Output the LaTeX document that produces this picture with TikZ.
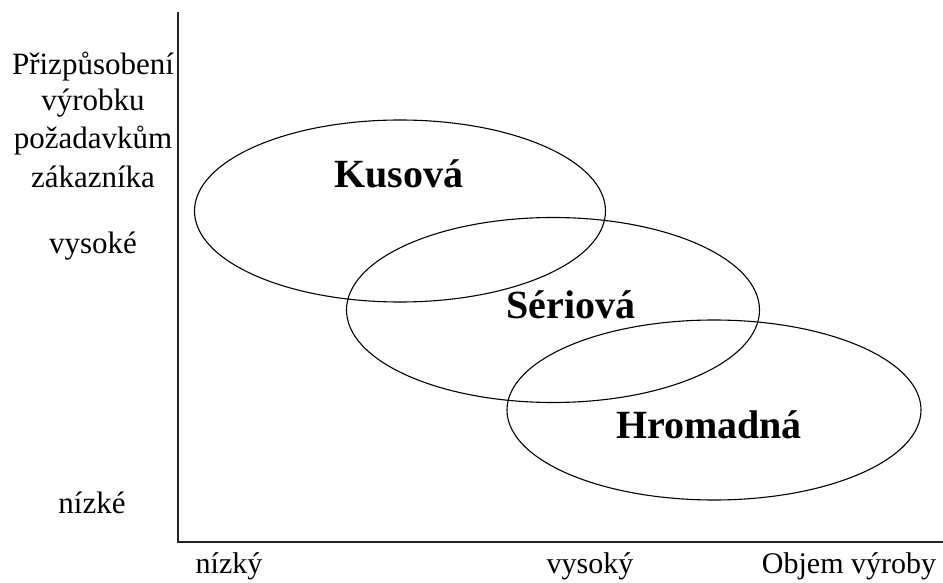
\documentclass[tikz,border=0pt]{standalone}
\usepackage{fontspec}
\setmainfont{Liberation Serif}
\usetikzlibrary{shapes.geometric}
\begin{document}
\begin{tikzpicture}[x=1pt,y=-1pt,
  ylbl/.style={font=\fontsize{31}{37}\selectfont, inner sep=0pt, anchor=base},
  xlbl/.style={font=\fontsize{30}{34}\selectfont, inner sep=0pt, anchor=base},
  big/.style={font=\fontsize{40}{44}\selectfont\bfseries, inner sep=0pt, anchor=base},
  oval/.style={draw, ellipse, line width=1.1pt, inner sep=0pt},
  axis/.style={line width=1.8pt, draw=black!85}]
\useasboundingbox (0,0) rectangle (943,583);
\coordinate (top) at (178,12);
\coordinate (orig) at (178,542);
\coordinate (right) at (943,542);
\draw[axis] (top) -- (orig) -- (right);
\node[oval, minimum width=411pt, minimum height=182pt] (e1) at (400,211) {};
\node[oval, minimum width=413pt, minimum height=185pt] (e2) at (553,310) {};
\node[oval, minimum width=414pt, minimum height=180pt] (e3) at (714,410) {};
\node[big] (t1) at (399,187) {Kusová};
\node[big] (t2) at (571,318) {Sériová};
\node[big] (t3) at (709,438) {Hromadná};
\node[ylbl] (yl1) at (93,75) {Přizpůsobení};
\node[ylbl] (yl2) at (93,111) {výrobku};
\node[ylbl] (yl3) at (93,149) {požadavkům};
\node[ylbl] (yl4) at (93,187) {zákazníka};
\node[ylbl] (yh) at (93,253) {vysoké};
\node[ylbl] (ylow) at (92,513) {nízké};
\node[xlbl] (xl) at (229,573) {nízký};
\node[xlbl] (xh) at (590,573) {vysoký};
\node[xlbl] (xt) at (849,573) {Objem výroby};
\end{tikzpicture}
\end{document}
